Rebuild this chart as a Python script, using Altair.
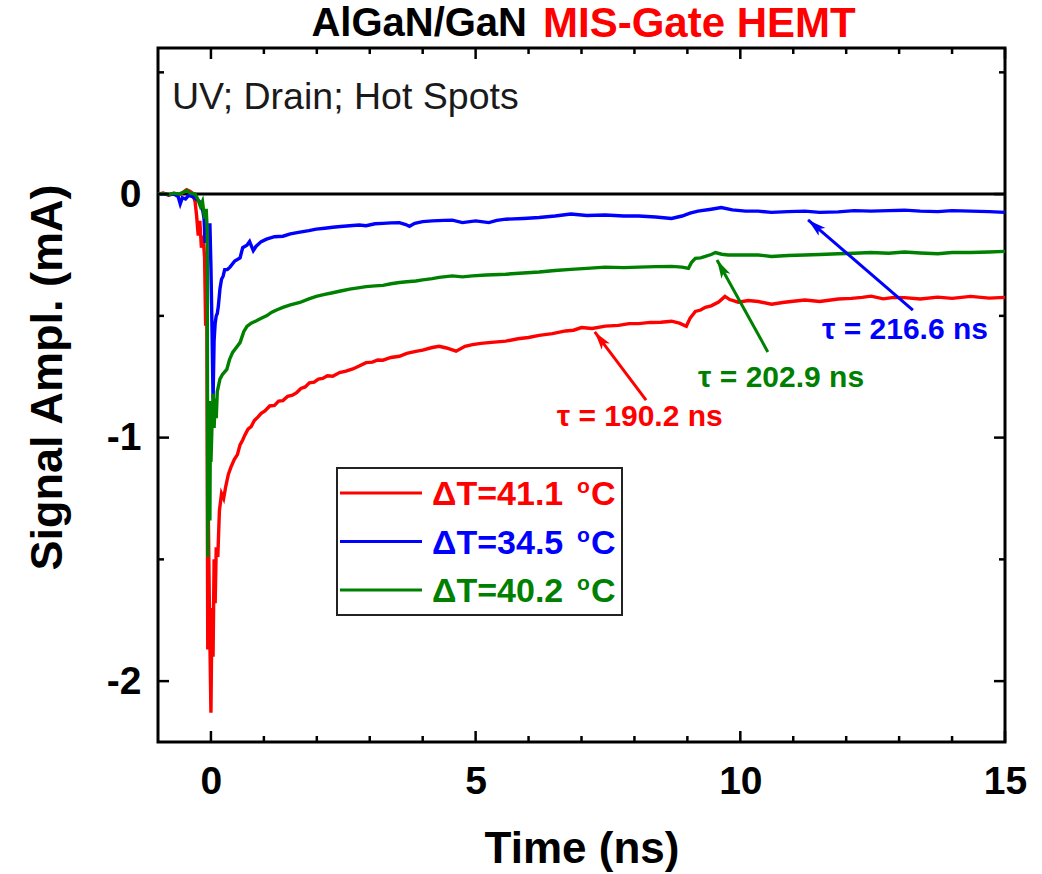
import math
import altair as alt
import pandas as pd

FONT = "Liberation Sans"
W, H = 847, 694
X_DOMAIN = [-1, 15]
Y_DOMAIN = [-2.25, 0.6]

# ---- series (time ns, signal mA) ----
red_points = [
    (-1.0, 0.0), (-0.9, 0.004), (-0.8, -0.004), (-0.7, 0.003), (-0.6, -0.003), (-0.52, 0.008),
    (-0.46, 0.018), (-0.4, 0.012), (-0.35, 0.004), (-0.3, -0.03), (-0.27, -0.09), (-0.24, -0.17),
    (-0.21, -0.11), (-0.18, -0.22), (-0.15, -0.17), (-0.12, -0.26), (-0.1, -0.54), (-0.08, -0.35),
    (-0.07, -1.12), (-0.06, -1.87), (-0.05, -1.3), (-0.03, -1.68), (0.0, -2.13), (0.02, -1.7),
    (0.04, -1.9), (0.06, -1.5), (0.08, -1.68), (0.1, -1.45), (0.13, -1.49), (0.16, -1.3),
    (0.2, -1.23), (0.24, -1.25), (0.28, -1.2), (0.33, -1.15), (0.38, -1.12), (0.44, -1.09),
    (0.5, -1.07), (0.55, -1.03), (0.6, -1.01), (0.64, -0.99), (0.7, -0.965), (0.76, -0.955),
    (0.82, -0.93), (0.89, -0.915), (0.95, -0.9), (1.02, -0.89), (1.11, -0.87), (1.2, -0.868),
    (1.28, -0.85), (1.36, -0.848), (1.45, -0.83), (1.54, -0.826), (1.62, -0.815), (1.7, -0.798),
    (1.78, -0.792), (1.86, -0.775), (1.95, -0.772), (2.03, -0.76), (2.11, -0.757), (2.2, -0.746),
    (2.3, -0.748), (2.43, -0.733), (2.55, -0.727), (2.68, -0.718), (2.8, -0.706), (2.93, -0.692),
    (3.05, -0.69), (3.15, -0.681), (3.25, -0.682), (3.4, -0.671), (3.56, -0.666), (3.7, -0.654),
    (3.87, -0.646), (4.0, -0.641), (4.18, -0.63), (4.31, -0.625), (4.45, -0.632), (4.63, -0.645),
    (4.8, -0.625), (4.94, -0.618), (5.1, -0.613), (5.3, -0.609), (5.57, -0.604), (5.8, -0.594),
    (6.0, -0.589), (6.2, -0.58), (6.45, -0.573), (6.7, -0.562), (6.85, -0.559), (7.0, -0.548),
    (7.2, -0.552), (7.45, -0.542), (7.7, -0.539), (7.9, -0.532), (8.08, -0.532), (8.3, -0.527),
    (8.5, -0.526), (8.7, -0.522), (8.85, -0.53), (8.98, -0.543), (9.05, -0.51), (9.15, -0.482),
    (9.25, -0.476), (9.34, -0.465), (9.45, -0.459), (9.59, -0.443), (9.71, -0.42), (9.8, -0.433),
    (9.96, -0.444), (10.15, -0.437), (10.34, -0.441), (10.59, -0.452), (10.8, -0.445), (11.0, -0.44),
    (11.22, -0.435), (11.5, -0.441), (11.85, -0.431), (12.1, -0.428), (12.3, -0.424), (12.47, -0.419),
    (12.7, -0.43), (12.9, -0.424), (13.1, -0.425), (13.4, -0.431), (13.73, -0.423), (14.0, -0.428),
    (14.35, -0.42), (14.7, -0.427), (15.0, -0.424),
]

blue_points = [
    (-1.0, 0.0), (-0.9, 0.002), (-0.8, -0.003), (-0.7, 0.0), (-0.62, -0.01), (-0.58, -0.04),
    (-0.54, -0.015), (-0.48, -0.02), (-0.42, -0.005), (-0.35, -0.01), (-0.28, -0.02), (-0.22, -0.03),
    (-0.16, -0.06), (-0.13, -0.1), (-0.11, -0.2), (-0.08, -0.13), (-0.05, -0.2), (-0.02, -0.12),
    (0.0, -0.3), (0.02, -0.55), (0.04, -0.84), (0.06, -0.6), (0.08, -0.53), (0.1, -0.5),
    (0.12, -0.49), (0.14, -0.46), (0.17, -0.39), (0.2, -0.35), (0.23, -0.337), (0.26, -0.31),
    (0.31, -0.31), (0.36, -0.3), (0.45, -0.275), (0.55, -0.262), (0.6, -0.22), (0.68, -0.21),
    (0.73, -0.195), (0.8, -0.232), (0.85, -0.215), (0.95, -0.195), (1.05, -0.185), (1.2, -0.175),
    (1.36, -0.173), (1.5, -0.163), (1.68, -0.156), (1.85, -0.15), (1.99, -0.144), (2.15, -0.14),
    (2.3, -0.136), (2.45, -0.133), (2.62, -0.13), (2.8, -0.127), (2.93, -0.13), (3.1, -0.122),
    (3.25, -0.12), (3.4, -0.118), (3.56, -0.117), (3.68, -0.125), (3.75, -0.132), (3.85, -0.12),
    (4.0, -0.113), (4.18, -0.11), (4.4, -0.108), (4.56, -0.107), (4.75, -0.117), (5.0, -0.11),
    (5.25, -0.117), (5.4, -0.108), (5.57, -0.103), (5.9, -0.1), (6.2, -0.096), (6.5, -0.09),
    (6.8, -0.082), (7.1, -0.088), (7.45, -0.086), (7.8, -0.09), (8.08, -0.09), (8.4, -0.094),
    (8.7, -0.1), (8.9, -0.09), (9.05, -0.078), (9.2, -0.07), (9.45, -0.062), (9.64, -0.055),
    (9.85, -0.065), (10.1, -0.07), (10.34, -0.07), (10.59, -0.075), (10.9, -0.072), (11.22, -0.07),
    (11.5, -0.075), (11.85, -0.073), (12.15, -0.068), (12.47, -0.07), (12.8, -0.068), (13.1, -0.066),
    (13.4, -0.07), (13.73, -0.072), (14.0, -0.068), (14.35, -0.07), (14.7, -0.072), (15.0, -0.075),
]

green_points = [
    (-1.0, 0.0), (-0.9, 0.003), (-0.8, -0.002), (-0.7, 0.004), (-0.6, 0.0), (-0.5, 0.01),
    (-0.45, 0.015), (-0.4, 0.005), (-0.3, 0.0), (-0.25, -0.02), (-0.2, -0.05), (-0.16, -0.03),
    (-0.12, -0.1), (-0.09, -0.06), (-0.07, -0.15), (-0.06, -1.49), (-0.05, -1.0), (-0.04, -1.2),
    (-0.03, -0.85), (-0.02, -1.34), (-0.01, -0.9), (0.0, -1.1), (0.02, -0.95), (0.04, -0.82),
    (0.06, -0.96), (0.08, -0.84), (0.1, -0.92), (0.12, -0.81), (0.15, -0.78), (0.17, -0.76),
    (0.22, -0.74), (0.26, -0.73), (0.3, -0.72), (0.35, -0.68), (0.41, -0.65), (0.48, -0.63),
    (0.55, -0.61), (0.62, -0.565), (0.68, -0.543), (0.76, -0.53), (0.86, -0.52), (0.95, -0.51),
    (1.05, -0.5), (1.15, -0.485), (1.25, -0.475), (1.36, -0.465), (1.5, -0.455), (1.68, -0.445),
    (1.85, -0.43), (1.99, -0.42), (2.15, -0.412), (2.3, -0.405), (2.45, -0.398), (2.62, -0.39),
    (2.78, -0.385), (2.93, -0.38), (3.1, -0.377), (3.25, -0.375), (3.4, -0.368), (3.56, -0.363),
    (3.7, -0.36), (3.87, -0.357), (4.0, -0.352), (4.18, -0.347), (4.31, -0.342), (4.56, -0.336),
    (4.75, -0.34), (4.94, -0.336), (5.2, -0.332), (5.57, -0.329), (5.9, -0.324), (6.2, -0.32),
    (6.5, -0.314), (6.8, -0.309), (7.1, -0.305), (7.45, -0.3), (7.8, -0.302), (8.08, -0.3),
    (8.4, -0.298), (8.7, -0.297), (8.9, -0.3), (9.02, -0.305), (9.08, -0.28), (9.15, -0.264),
    (9.25, -0.262), (9.34, -0.256), (9.45, -0.248), (9.53, -0.24), (9.65, -0.247), (9.77, -0.25),
    (10.0, -0.25), (10.34, -0.25), (10.59, -0.256), (10.9, -0.252), (11.22, -0.25), (11.5, -0.248),
    (11.85, -0.245), (12.15, -0.243), (12.47, -0.24), (12.8, -0.243), (13.1, -0.238), (13.4, -0.242),
    (13.73, -0.245), (14.0, -0.24), (14.35, -0.24), (14.7, -0.238), (15.0, -0.235),
]

series_colors = ["#ff0000", "#0000ff", "#008000"]
legend_values = ["ΔT=41.1", "ΔT=34.5", "ΔT=40.2"]

# annotations (red, blue, green)
tau_labels = ["τ = 190.2 ns", "τ = 216.6 ns", "τ = 202.9 ns"]
arrow_tip_t = [7.25, 11.28, 9.56]
arrow_tip_v = [-0.566, -0.106, -0.271]
arrow_tail_t = [8.22, 13.26, 10.52]
arrow_tail_v = [-0.846, -0.476, -0.648]
label_t = [8.10, 13.11, 10.77]
label_v = [-0.915, -0.558, -0.755]

x_major = [0, 5, 10, 15]
x_minor = [1, 2, 3, 4, 6, 7, 8, 9, 11, 12, 13, 14]
y_major = [0, -1, -2]
y_minor = [0.5, -0.5, -1.5]

# ---------------------------------------------------------------
xs = alt.Scale(domain=X_DOMAIN, nice=False, zero=False)
ys = alt.Scale(domain=Y_DOMAIN, nice=False, zero=False)

x_axis = alt.Axis(
    values=x_major, title="Time (ns)", ticks=False, domain=False, grid=False,
    labelFont=FONT, labelFontSize=39, labelFontWeight="bold", labelColor="black",
    labelPadding=20, labelFlush=False, labelExpr="toString(datum.value)",
    titleFont=FONT, titleFontSize=44, titleFontWeight="bold", titleColor="black",
    titlePadding=26,
)
y_axis = alt.Axis(
    values=y_major, title="Signal Ampl. (mA)", ticks=False, domain=False, grid=False,
    labelFont=FONT, labelFontSize=39, labelFontWeight="bold", labelColor="black",
    labelPadding=17, labelFlush=False, labelExpr="toString(datum.value)",
    titleFont=FONT, titleFontSize=45, titleFontWeight="bold", titleColor="black",
    titlePadding=36, titleY=329,
)

def X(field):
    return alt.X(field, type="quantitative", scale=xs, axis=x_axis)

def Y(field):
    return alt.Y(field, type="quantitative", scale=ys, axis=y_axis)

one = pd.DataFrame({"a": [0]})
layers = []

# zero line
layers.append(
    alt.Chart(pd.DataFrame({"v": [0]})).mark_rule(color="black", strokeWidth=3).encode(y=Y("v"))
)

# data lines
for pts, col in zip([red_points, blue_points, green_points], series_colors):
    df = pd.DataFrame(pts, columns=["t", "v"])
    layers.append(alt.Chart(df).mark_line(color=col, strokeWidth=3.4).encode(x=X("t"), y=Y("v")))

# arrows
sx = W / (X_DOMAIN[1] - X_DOMAIN[0])
sy = H / (Y_DOMAIN[1] - Y_DOMAIN[0])
ann = pd.DataFrame({
    "tip_t": arrow_tip_t, "tip_v": arrow_tip_v,
    "tail_t": arrow_tail_t, "tail_v": arrow_tail_v,
    "lab_t": label_t, "lab_v": label_v,
    "label": tau_labels, "col": series_colors,
})
ann["angle"] = [
    math.degrees(math.atan2((a - b) * sx, (c - d) * sy)) % 360
    for a, b, c, d in zip(ann.tip_t, ann.tail_t, ann.tip_v, ann.tail_v)
]
col_enc = alt.Color("col:N", scale=None, legend=None)
layers.append(
    alt.Chart(ann).mark_rule(strokeWidth=3).encode(
        x=X("tail_t"), y=Y("tail_v"), x2="tip_t:Q", y2="tip_v:Q", color=col_enc,
    )
)
layers.append(
    alt.Chart(ann).mark_point(
        shape="M0,0 L0.5,1.8 L0,1.35 L-0.5,1.8 Z", filled=True, size=420, opacity=1, strokeWidth=0
    ).encode(
        x=X("tip_t"), y=Y("tip_v"),
        angle=alt.Angle("angle:Q", scale=None), fill=alt.Fill("col:N", scale=None, legend=None),
    )
)
layers.append(
    alt.Chart(ann).mark_text(font=FONT, fontSize=30, fontWeight="bold", align="center",
                             baseline="middle").encode(
        x=X("lab_t"), y=Y("lab_v"), text="label:N", color=col_enc,
    )
)

# inward ticks on all four sides
def x_ticks(vals, length):
    df = pd.DataFrame({"t": vals})
    base = alt.Chart(df).mark_rule(color="black", strokeWidth=2.5)
    return [
        base.encode(x=X("t"), y=alt.value(H), y2=alt.value(H - length)),
        base.encode(x=X("t"), y=alt.value(0), y2=alt.value(length)),
    ]

def y_ticks(vals, length):
    df = pd.DataFrame({"v": vals})
    base = alt.Chart(df).mark_rule(color="black", strokeWidth=2.5)
    return [
        base.encode(y=Y("v"), x=alt.value(0), x2=alt.value(length)),
        base.encode(y=Y("v"), x=alt.value(W), x2=alt.value(W - length)),
    ]

layers += x_ticks(x_major, 11) + x_ticks(x_minor, 6) + y_ticks(y_major, 11) + y_ticks(y_minor, 6)

# legend box
layers.append(
    alt.Chart(one).mark_rect(fill="white", stroke="#222222", strokeWidth=2).encode(
        x=alt.value(179), x2=alt.value(464), y=alt.value(420), y2=alt.value(567)
    )
)
for i, (lab, col) in enumerate(zip(legend_values, series_colors)):
    ry = 445 + i * 48.5
    layers.append(alt.Chart(one).mark_rule(color=col, strokeWidth=3.2).encode(
        x=alt.value(182), x2=alt.value(264), y=alt.value(ry)))
    layers.append(alt.Chart(one).mark_text(
        text=lab, font=FONT, fontSize=34, fontWeight="bold", color=col,
        align="left", baseline="alphabetic").encode(x=alt.value(274), y=alt.value(ry + 12)))
    layers.append(alt.Chart(one).mark_text(
        text="o", font=FONT, fontSize=21, fontWeight="bold", color=col,
        align="left", baseline="alphabetic").encode(x=alt.value(419), y=alt.value(ry)))
    layers.append(alt.Chart(one).mark_text(
        text="C", font=FONT, fontSize=34, fontWeight="bold", color=col,
        align="left", baseline="alphabetic").encode(x=alt.value(433), y=alt.value(ry + 12)))

# inner label and two-coloured title
layers.append(alt.Chart(one).mark_text(
    text="UV; Drain; Hot Spots", font=FONT, fontSize=37.5, color="#1a1a1a",
    align="left", baseline="alphabetic").encode(x=alt.value(14), y=alt.value(61)))
layers.append(alt.Chart(one).mark_text(
    text="AlGaN/GaN", font=FONT, fontSize=40, fontWeight="bold", color="black",
    align="right", baseline="middle").encode(x=alt.value(369), y=alt.value(-24)))
layers.append(alt.Chart(one).mark_text(
    text="MIS-Gate HEMT", font=FONT, fontSize=42, fontWeight="bold", color="#ff0000",
    align="left", baseline="middle").encode(x=alt.value(385), y=alt.value(-24)))

chart = alt.layer(*layers).properties(
    width=W, height=H,
    padding={"left": 158, "top": 48, "right": 37, "bottom": 132},
    autosize=alt.AutoSizeParams(type="none"),
    background="white",
).configure_view(stroke="black", strokeWidth=3)

chart.save("out.html", embed_options={"renderer": "svg", "actions": False})
